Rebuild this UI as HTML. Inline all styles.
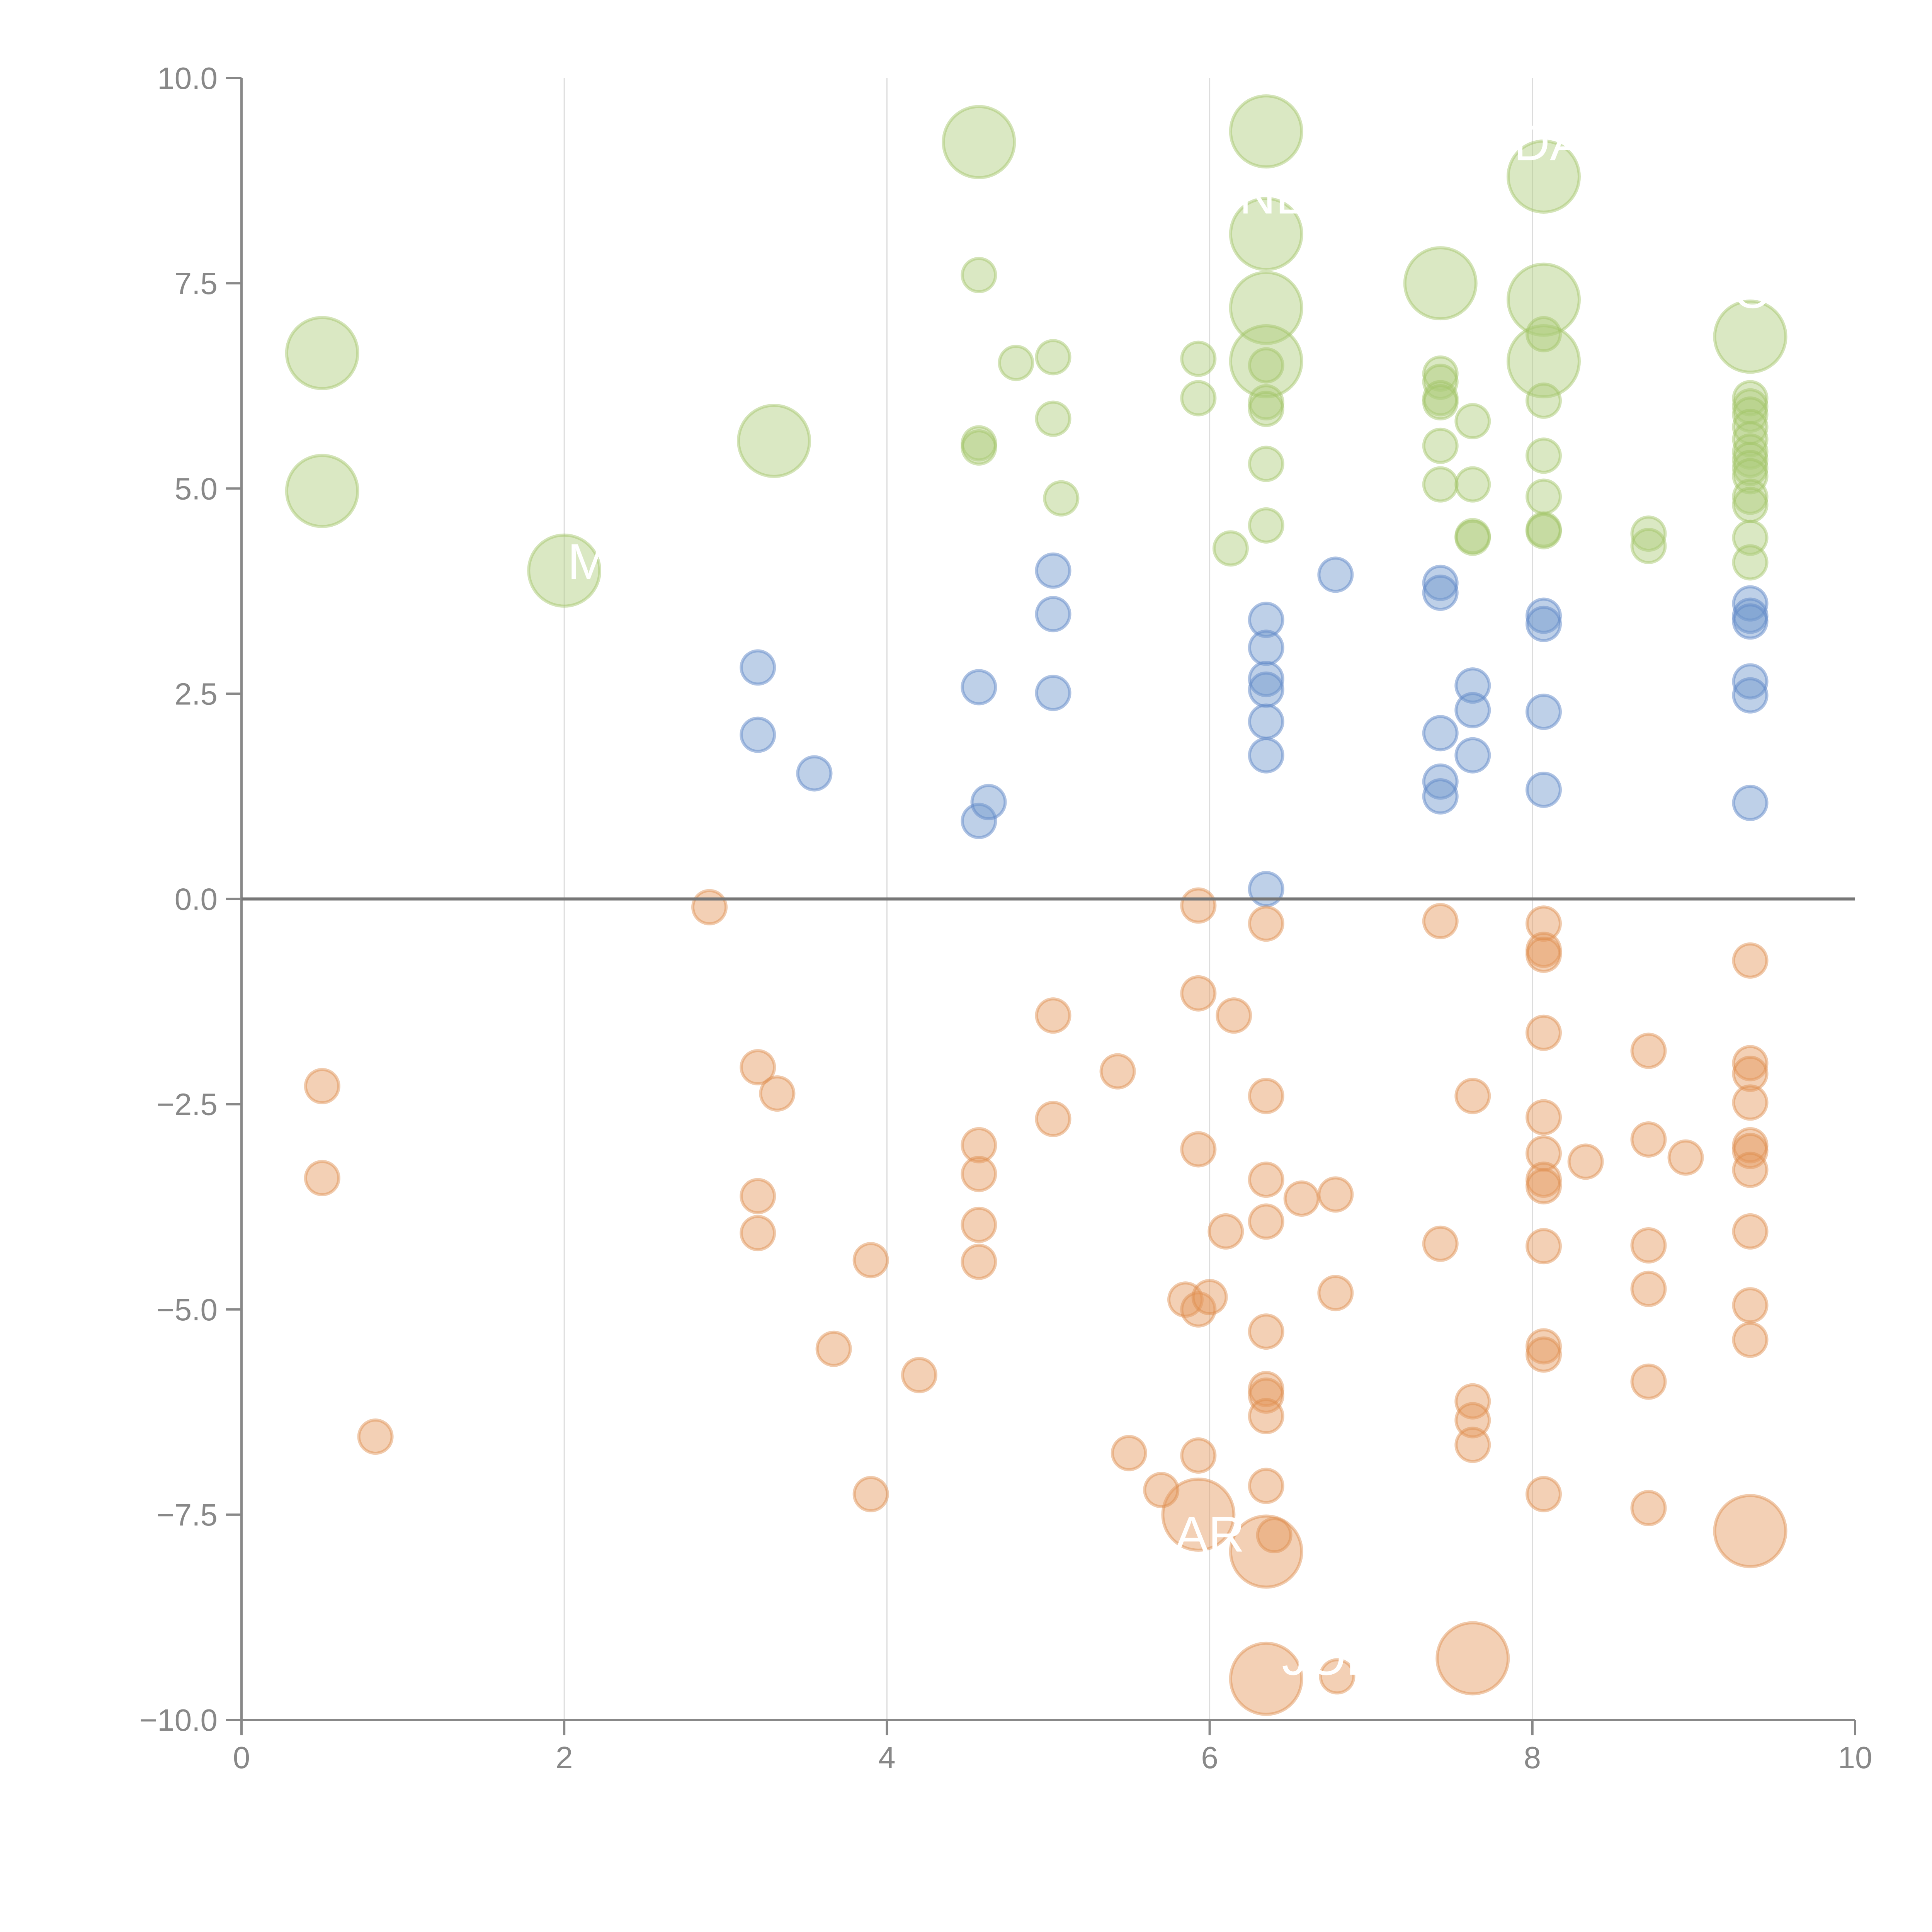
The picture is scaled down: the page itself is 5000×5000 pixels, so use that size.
<!DOCTYPE html>
<html><head><meta charset="utf-8"><style>
html,body{margin:0;padding:0;background:#fff}
svg{display:block}
text{font-family:"Liberation Sans",Arial,sans-serif}
</style></head>
<body>
<svg id="chart" width="5000" height="5000" viewBox="0 0 5000 5000" xmlns="http://www.w3.org/2000/svg">
<rect width="5000" height="5000" fill="#fff"/>
<g id="grid"></g>
<g id="axes"></g>
<g id="marks"></g>
<g id="labels"></g>
</svg>
<script>
const xTicks = [0, 2, 4, 6, 8, 10];
const yTicks = [10, 7.5, 5, 2.5, 0, -2.5, -5, -7.5, -10];
const yTickLabels = ["10.0", "7.5", "5.0", "2.5", "0.0", "\u22122.5", "\u22125.0", "\u22127.5", "\u221210.0"];

const greenX = [4.57,4.8,5.03,4.57,4.57,5.03,5.08,5.93,5.93,6.35,6.35,6.35,6.35,6.35,6.13,7.43,7.43,7.43,7.43,7.43,7.43,7.63,7.63,7.63,7.63,8.07,8.07,8.07,8.07,8.07,8.07,8.72,8.72,9.35,9.35,9.35,9.35,9.35,9.35,9.35,9.35,9.35,9.35,9.35,9.35,9.35];
const greenY = [7.6,6.53,6.6,5.55,5.5,5.85,4.88,6.58,6.1,6.5,6.05,5.97,5.3,4.55,4.27,6.4,6.3,6.1,6.05,5.52,5.05,5.82,5.05,4.42,4.4,6.88,6.07,5.4,4.9,4.5,4.48,4.45,4.3,6.1,6.0,5.9,5.75,5.6,5.45,5.35,5.25,5.15,4.9,4.8,4.4,4.1];
const greenBigX = [0.5,0.5,2.0,3.3,4.57,6.35,6.35,6.35,6.35,7.43,8.07,8.07,8.07,9.35];
const greenBigY = [6.65,4.97,4.0,5.58,9.22,9.35,8.1,7.2,6.55,7.5,8.8,7.3,6.55,6.85];

const blueX = [3.2,3.2,3.55,4.57,4.57,4.63,5.03,5.03,5.03,6.35,6.35,6.35,6.35,6.35,6.35,6.35,6.78,7.43,7.43,7.43,7.43,7.43,7.63,7.63,7.63,8.07,8.07,8.07,8.07,9.35,9.35,9.35,9.35,9.35,9.35];
const blueY = [2.82,2.0,1.53,2.58,0.95,1.18,4.0,3.47,2.51,3.4,3.06,2.68,2.55,2.16,1.75,0.12,3.95,3.85,3.73,2.02,1.43,1.25,2.6,2.3,1.75,3.45,3.35,2.28,1.33,3.6,3.45,3.38,2.65,2.48,1.17];

const orangeX = [2.9,0.5,0.5,0.83,3.2,3.32,3.2,3.2,3.9,3.9,3.67,4.2,4.57,4.57,4.57,4.57,5.03,5.03,5.43,5.5,5.7,5.85,5.93,6.0,5.93,5.93,5.93,5.93,6.15,6.1,6.35,6.35,6.35,6.35,6.35,6.35,6.35,6.35,6.35,6.4,6.57,6.78,6.78,6.79,7.43,7.43,7.63,7.63,7.63,7.63,8.07,8.07,8.07,8.07,8.07,8.07,8.07,8.07,8.07,8.07,8.07,8.07,8.33,8.72,8.72,8.72,8.72,8.72,8.72,8.95,9.35,9.35,9.35,9.35,9.35,9.35,9.35,9.35,9.35,9.35];
const orangeY = [-0.1,-2.28,-3.4,-6.55,-2.05,-2.37,-3.62,-4.07,-4.4,-7.25,-5.48,-5.8,-3.0,-3.35,-3.97,-4.42,-1.42,-2.68,-2.1,-6.75,-7.2,-4.88,-5.0,-4.85,-0.08,-1.15,-3.05,-6.78,-1.42,-4.05,-0.3,-2.4,-3.42,-3.93,-5.27,-5.97,-6.05,-6.3,-7.15,-7.75,-3.65,-3.6,-4.8,-9.47,-0.27,-4.2,-2.4,-6.12,-6.35,-6.65,-0.3,-0.62,-0.68,-1.63,-2.66,-3.1,-3.42,-3.5,-4.23,-5.45,-5.55,-7.25,-3.2,-1.85,-2.93,-4.22,-4.75,-5.88,-7.42,-3.15,-0.75,-2.0,-2.13,-2.48,-3.0,-3.07,-3.3,-4.05,-4.95,-5.37];
const orangeBigX = [5.93,6.35,6.35,7.63,9.35];
const orangeBigY = [-7.5,-7.95,-9.5,-9.25,-7.7];

const labelText = ["DA","NE","OL","M","AR","JOE"];
const labelX = [8.1,6.4,9.45,2.15,6.0,6.75];
const labelY = [9.0,8.35,7.2,3.9,-7.95,-9.45];

const NS = "http://www.w3.org/2000/svg";
const X0 = 625, X1 = 4801, YT = 202, YB = 4451;
function sx(v){ return X0 + (v - 0) / 10 * (X1 - X0); }
function sy(v){ return YB - (v + 10) / 20 * (YB - YT); }
function mk(tag, attrs, parent){
  const el = document.createElementNS(NS, tag);
  for (const k in attrs) el.setAttribute(k, attrs[k]);
  parent.appendChild(el);
  return el;
}
const grid = document.getElementById('grid');
const axes = document.getElementById('axes');
const marks = document.getElementById('marks');
const labels = document.getElementById('labels');

xTicks.forEach((t) => {
  if (t > 0 && t < 10) {
    const g = mk('line', {x1: sx(t), x2: sx(t), y1: YT, y2: YB, stroke: '#dcdcdc', 'stroke-width': 3}, grid);
    
    
  }
  const tk = mk('line', {x1: sx(t), x2: sx(t), y1: YB, y2: YB + 40, stroke: '#888', 'stroke-width': 6}, axes);
  
  
  const tl = mk('text', {x: sx(t), y: YB + 125, 'text-anchor': 'middle', 'font-size': 80, fill: '#888'}, axes);
  tl.textContent = String(t);
  
  
});
yTicks.forEach((t, i) => {
  const tk = mk('line', {x1: X0 - 40, x2: X0, y1: sy(t), y2: sy(t), stroke: '#888', 'stroke-width': 6}, axes);
  
  
  const tl = mk('text', {x: X0 - 62, y: sy(t) + 28, 'text-anchor': 'end', 'font-size': 80, fill: '#888'}, axes);
  tl.textContent = yTickLabels[i];
  
  
});
const ya = mk('line', {x1: X0, x2: X0, y1: YT, y2: YB, stroke: '#888', 'stroke-width': 6}, axes);


const xa = mk('line', {x1: X0, x2: X1, y1: YB, y2: YB, stroke: '#888', 'stroke-width': 6}, axes);



function drawSeries(xs, ys, r, fill, stroke, name){
  xs.forEach((x, i) => {
    const c = mk('circle', {cx: sx(x), cy: sy(ys[i]), r: r, fill: fill, stroke: stroke, 'stroke-width': 8}, marks);
    
    
  });
}
const G = ['rgba(172,203,122,0.45)', 'rgba(160,196,100,0.45)'];
const B = ['rgba(110,150,205,0.45)', 'rgba(95,135,200,0.5)'];
const O = ['rgba(228,150,90,0.45)', 'rgba(222,140,75,0.45)'];
drawSeries(greenBigX, greenBigY, 92, G[0], G[1], 'green-bubble-large');
drawSeries(greenX, greenY, 43, G[0], G[1], 'green-bubble');
drawSeries(blueX, blueY, 43, B[0], B[1], 'blue-bubble');
drawSeries(orangeBigX, orangeBigY, 92, O[0], O[1], 'orange-bubble-large');
drawSeries(orangeX, orangeY, 43, O[0], O[1], 'orange-bubble');

const zl = mk('line', {x1: X0, x2: X1, y1: sy(0), y2: sy(0), stroke: '#777', 'stroke-width': 8}, axes);


marks.parentNode.appendChild(axes);

labelText.forEach((t, i) => {
  const tx = mk('text', {x: sx(labelX[i]), y: sy(labelY[i]), 'text-anchor': 'middle', 'font-size': 130, fill: '#fff'}, labels);
  tx.textContent = t;
  
  
});
</script>
</body></html>
